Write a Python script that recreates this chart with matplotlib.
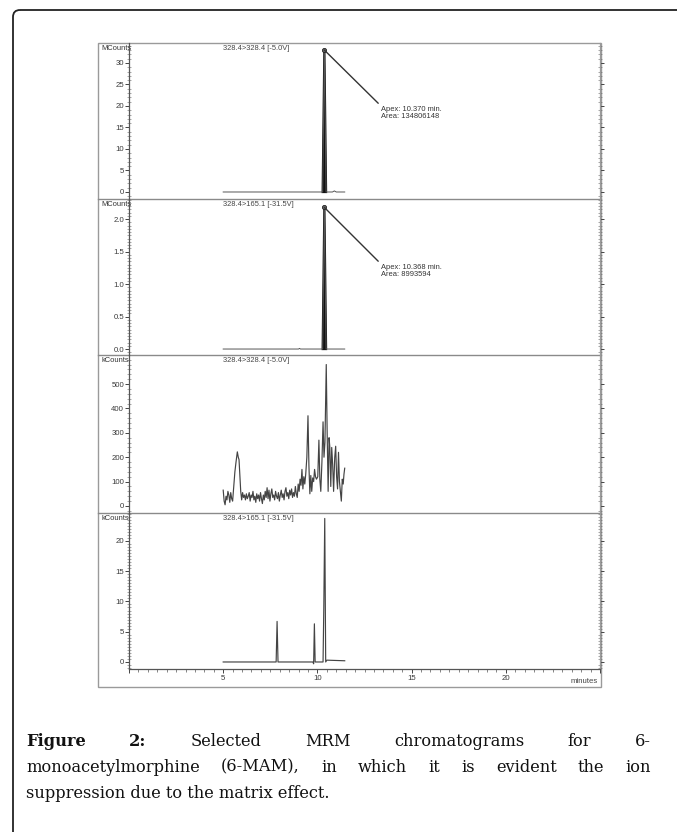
import matplotlib
matplotlib.use("Agg")
import matplotlib.pyplot as plt
from matplotlib.patches import FancyBboxPatch, Rectangle
from matplotlib.ticker import AutoMinorLocator, MultipleLocator

W, H = 677, 832

# ---- data (time in minutes) ----
p1_time = [5.0, 10.28, 10.37, 10.46, 10.80, 10.90, 11.00, 11.45]
p1_counts = [0.0, 0.0, 33.0, 0.0, 0.0, 0.25, 0.0, 0.0]   # MCounts
p1_apex = (10.37, 33.0)
p1_label = "Apex: 10.370 min.\nArea: 134806148"

p2_time = [5.0, 9.00, 9.05, 9.10, 10.28, 10.37, 10.46, 11.45]
p2_counts = [0.0, 0.0, 0.01, 0.0, 0.0, 2.18, 0.0, 0.0]    # MCounts
p2_apex = (10.37, 2.18)
p2_label = "Apex: 10.368 min.\nArea: 8993594"

p3_time = [5.00, 5.05, 5.10, 5.15, 5.20, 5.25, 5.30, 5.35, 5.40, 5.45, 5.50, 5.55,
           5.62, 5.68, 5.75, 5.80, 5.84, 5.88, 5.93, 5.98, 6.03, 6.08, 6.13, 6.18,
           6.23, 6.28, 6.33, 6.38, 6.43, 6.48, 6.53, 6.58, 6.63, 6.68, 6.73, 6.78,
           6.83, 6.88, 6.93, 6.98, 7.03, 7.08, 7.13, 7.18, 7.23, 7.28, 7.33, 7.38,
           7.43, 7.48, 7.53, 7.58, 7.63, 7.68, 7.73, 7.78, 7.83, 7.88, 7.93, 7.98,
           8.03, 8.08, 8.13, 8.18, 8.23, 8.28, 8.33, 8.38, 8.43, 8.48, 8.53, 8.58,
           8.63, 8.68, 8.73, 8.78, 8.83, 8.88, 8.93, 8.98, 9.03, 9.08, 9.13, 9.18,
           9.23, 9.28, 9.33, 9.38, 9.44, 9.50, 9.55, 9.60, 9.65, 9.70, 9.75, 9.80,
           9.85, 9.90, 9.95, 10.02, 10.08, 10.13, 10.18, 10.24, 10.30, 10.35, 10.40,
           10.47, 10.52, 10.57, 10.62, 10.66, 10.71, 10.76, 10.81, 10.86, 10.92,
           10.97, 11.02, 11.07, 11.12, 11.17, 11.22, 11.27, 11.32, 11.37, 11.41, 11.45]
p3_counts = [65, 20, 5, 40, 25, 60, 45, 15, 55, 30, 20, 70,
             140, 180, 222, 200, 190, 135, 60, 25, 55, 35, 45, 25,
             50, 30, 40, 55, 20, 45, 35, 60, 25, 40, 15, 50,
             30, 45, 20, 55, 30, 10, 45, 25, 60, 35, 75, 30,
             65, 20, 50, 70, 35, 45, 25, 60, 40, 30, 55, 20,
             45, 65, 35, 50, 25, 60, 75, 40, 55, 30, 65, 45,
             70, 35, 55, 40, 80, 50, 35, 90, 60, 110, 85, 150,
             70, 120, 90, 130, 200, 370, 165, 50, 125, 60, 115, 100,
             150, 120, 110, 120, 270, 110, 60, 180, 345, 200, 260,
             580, 290, 60, 280, 240, 80, 240, 170, 60, 200,
             245, 120, 70, 220, 100, 60, 20, 110, 90, 130, 155]  # kCounts

p4_time = [5.0, 7.81, 7.86, 7.91, 9.76, 9.80, 9.84, 9.88, 10.30, 10.34, 10.39, 10.44, 10.50, 11.45]
p4_counts = [0.0, 0.0, 6.7, 0.0, 0.0, -0.3, 6.3, 0.0, 0.0, 9.0, 23.7, 0.0, 0.3, 0.2]  # kCounts

panel_units = ["MCounts", "MCounts", "kCounts", "kCounts"]
panel_titles = ["328.4>328.4 [-5.0V]", "328.4>165.1 [-31.5V]",
                "328.4>328.4 [-5.0V]", "328.4>165.1 [-31.5V]"]
panel_ylim = [(-1.63, 34.65), (-0.092, 2.31), (-28.7, 619), (-1.16, 24.6)]
panel_yticks = [[0, 5, 10, 15, 20, 25, 30],
                [0.0, 0.5, 1.0, 1.5, 2.0],
                [0, 100, 200, 300, 400, 500],
                [0, 5, 10, 15, 20]]
panel_minor = [5, 10, 5, 10]
panel_fmt = ["{:.0f}", "{:.1f}", "{:.0f}", "{:.0f}"]
panel_px = [(43, 199), (199, 355), (355, 513), (513, 669)]

caption_l1 = [("Figure", True), ("2:", True), ("Selected", False), ("MRM", False),
              ("chromatograms", False), ("for", False), ("6-", False)]
caption_l2 = "monoacetylmorphine (6-MAM), in which it is evident the ion"
caption_l3 = "suppression due to the matrix effect."

SANS = "Liberation Sans"
SERIF = "DejaVu Serif"
TICK_COL = "#3a3a3a"

fig = plt.figure(figsize=(W / 100, H / 100), dpi=100)

# background layer in pixel coordinates
bg = fig.add_axes([0, 0, 1, 1], zorder=0)
bg.set_xlim(0, W)
bg.set_ylim(H, 0)
bg.axis("off")
bg.add_patch(FancyBboxPatch((13, 10), 800, 900, boxstyle="round,pad=0,rounding_size=7",
                            fc="none", ec="#222222", lw=1.3))
bg.add_patch(Rectangle((98, 43), 503, 644, fc="white", ec="#9a9a9a", lw=1.0))
for y in [199, 355, 513]:
    bg.plot([98, 601], [y, y], color="#8a8a8a", lw=1.0)

x0, x1 = 129, 600
series = [(p1_time, p1_counts), (p2_time, p2_counts), (p3_time, p3_counts), (p4_time, p4_counts)]
axes = []
for i, (top, bot) in enumerate(panel_px):
    ax = fig.add_axes([x0 / W, 1 - bot / H, (x1 - x0) / W, (bot - top) / H], zorder=2)
    ax.patch.set_alpha(0)
    t, v = series[i]
    if i < 2:
        # thin baseline, heavy filled peak
        ax.plot(t, v, color="#555555", lw=0.7)
        k = t.index(10.37)
        ax.fill(t[k - 1:k + 2], v[k - 1:k + 2], color="#111111", lw=1.6, ec="#111111")
    else:
        ax.plot(t, v, color="#444444", lw=0.85)
    ax.set_xlim(0, 25)
    ax.set_ylim(*panel_ylim[i])
    for s in ["top", "bottom"]:
        ax.spines[s].set_visible(False)
    ax.spines["left"].set_color("#555555")
    ax.spines["left"].set_linewidth(0.9)
    ax.spines["right"].set_color("#9a9a9a")
    ax.spines["right"].set_linewidth(0.9)
    ax.set_yticks(panel_yticks[i])
    ax.yaxis.set_minor_locator(AutoMinorLocator(panel_minor[i]))
    fmt = panel_fmt[i]
    ax.yaxis.set_major_formatter(lambda val, pos, fmt=fmt: fmt.format(val))
    ax.tick_params(axis="y", which="major", direction="out", length=3, width=0.7,
                   color="#444444", pad=0.5, labelsize=5.6, labelcolor=TICK_COL, right=True)
    ax.tick_params(axis="y", which="minor", direction="inout", length=2.5, width=0.4,
                   color="#666666", right=True)
    for lab in ax.get_yticklabels():
        lab.set_fontfamily(SANS)
    if i < 3:
        ax.set_xticks([])
    bg.text(101, top + 2, panel_units[i], fontsize=5.4, family=SANS, color="#333333",
            ha="left", va="top", zorder=3)
    ax.text(5.0, 0.985, panel_titles[i], transform=ax.get_xaxis_transform(),
            fontsize=5.4, family=SANS, color="#444444", ha="left", va="top")
    axes.append(ax)

# bottom x axis
ax4 = axes[3]
ax4.spines["bottom"].set_visible(True)
ax4.spines["bottom"].set_color("#555555")
ax4.spines["bottom"].set_linewidth(0.9)
ax4.xaxis.set_major_locator(MultipleLocator(5))
ax4.xaxis.set_minor_locator(MultipleLocator(0.5))
ax4.xaxis.set_major_formatter(lambda val, pos: "" if val in (0, 25) else f"{val:.0f}")
ax4.tick_params(axis="x", which="major", direction="out", length=3, width=0.7,
                color="#444444", pad=1, labelsize=5.6, labelcolor=TICK_COL)
ax4.tick_params(axis="x", which="minor", direction="out", length=2, width=0.5, color="#555555")
for lab in ax4.get_xticklabels():
    lab.set_fontfamily(SANS)
bg.text(598, 685, "minutes", fontsize=5.6, family=SANS, color="#444444", ha="right", va="bottom")

# apex annotations
for ax, apex, label, ty in [(axes[0], p1_apex, p1_label, 106), (axes[1], p2_apex, p2_label, 264)]:
    ax.plot(*apex, "o", ms=3, mfc="#666666", mec="#222222", mew=0.6)
    ax.annotate(label, xy=apex, xytext=(381, H - ty), textcoords="figure pixels",
                fontsize=5.4, family=SANS, color="#333333", ha="left", va="top",
                linespacing=1.1,
                arrowprops=dict(arrowstyle="-", color="#333333", lw=1.0,
                                shrinkA=0, shrinkB=0, relpos=(0, 1)))

# caption, justified like the source
fig.canvas.draw()
renderer = fig.canvas.get_renderer()
left, right = 26, 651
cap_size = 11.7


def place_justified(words, yc):
    arts = []
    for w, bold in words:
        arts.append(bg.text(0, yc, w, fontsize=cap_size, family=SERIF,
                            fontweight="bold" if bold else "normal",
                            color="#111111", ha="left", va="center"))
    widths = [a.get_window_extent(renderer).width for a in arts]
    gap = (right - left - sum(widths)) / (len(arts) - 1)
    x = left
    for a, wd in zip(arts, widths):
        a.set_x(x)
        x += wd + gap


place_justified(caption_l1, 741)
place_justified([(w, False) for w in caption_l2.split()], 767)
bg.text(left, 793, caption_l3, fontsize=cap_size, family=SERIF, color="#111111",
        ha="left", va="center")

fig.savefig("out.png", dpi=100)
